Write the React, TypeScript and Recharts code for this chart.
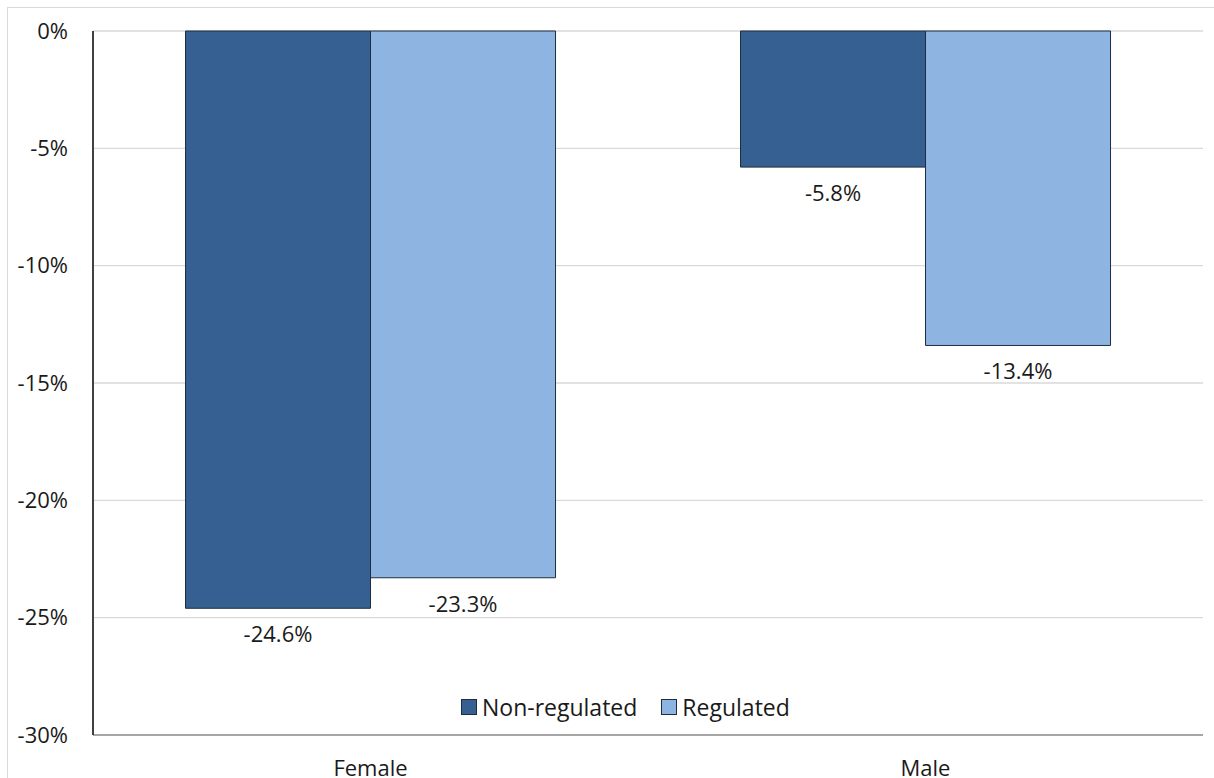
import React from 'react';
import {
  BarChart,
  Bar,
  XAxis,
  YAxis,
  CartesianGrid,
  Legend,
  LabelList,
} from 'recharts';

const categories = ['Female', 'Male'];
const nonRegulated = [-24.6, -5.8];
const regulated = [-23.3, -13.4];
const yTicks = [0, -5, -10, -15, -20, -25, -30];

const seriesInfo = [
  { key: 'nonRegulated', name: 'Non-regulated', color: '#366092' },
  { key: 'regulated', name: 'Regulated', color: '#8eb4e2' },
];

const data = categories.map((c, i) => ({
  category: c,
  nonRegulated: nonRegulated[i],
  regulated: regulated[i],
}));

const fontFamily = '"Open Sans", "Noto Sans", sans-serif';
const textColor = '#1a1a1a';

const pctFormatter = (v: number) => `${v}%`;

// label placed below the end of a (negative) bar
const BelowBarLabel = (props: any) => {
  const { x, y, width, height, value } = props;
  const bottom = Math.max(y, y + height);
  return (
    <text
      x={x + width / 2}
      y={bottom + 25}
      textAnchor="middle"
      dominantBaseline="central"
      fill={textColor}
      fontSize={22}
      fontFamily={fontFamily}
    >
      {pctFormatter(value)}
    </text>
  );
};

const LegendContent = () => (
  <div style={{ display: 'flex', alignItems: 'center', fontFamily, fontSize: 23, color: textColor }}>
    {seriesInfo.map((s, i) => (
      <div key={s.key} style={{ display: 'flex', alignItems: 'center', marginRight: i === 0 ? 24 : 0 }}>
        <span
          style={{
            width: 14,
            height: 14,
            background: s.color,
            border: '1px solid #1f2d3d',
            marginRight: 5,
            display: 'inline-block',
          }}
        />
        <span>{s.name}</span>
      </div>
    ))}
  </div>
);

const App: React.FC = () => {
  return (
    <div style={{ position: 'absolute', left: 0, top: 0, width: 1214, height: 778, overflow: 'hidden', background: '#fff' }}>
      <div
        style={{
          position: 'absolute',
          left: 7,
          top: 7,
          width: 1240,
          height: 820,
          border: '1px solid #d9d9d9',
        }}
      />
      <div style={{ position: 'absolute', left: 0, top: 0 }}>
        <BarChart
          width={1214}
          height={778}
          data={data}
          margin={{ top: 31, right: 11, bottom: 0, left: 8 }}
          barCategoryGap="16.67%"
          barGap={0}
        >
          <CartesianGrid vertical={false} stroke="#d9d9d9" strokeWidth={1.3} />
          <XAxis
            dataKey="category"
            height={43}
            tickLine={false}
            tickSize={0}
            tickMargin={25}
            axisLine={{ stroke: '#a6a6a6', strokeWidth: 2 }}
            tick={{ fill: textColor, fontSize: 22, fontFamily }}
          />
          <XAxis
            xAxisId="top"
            dataKey="category"
            orientation="top"
            height={0}
            tick={false}
            tickLine={false}
            axisLine={{ stroke: '#595959', strokeWidth: 2 }}
          />
          <YAxis
            width={85}
            domain={[-30, 0]}
            ticks={yTicks}
            interval={0}
            tickFormatter={pctFormatter}
            tickLine={false}
            tickSize={0}
            tickMargin={25}
            axisLine={{ stroke: '#404040', strokeWidth: 2 }}
            tick={{ fill: textColor, fontSize: 22, fontFamily }}
          />
          <YAxis
            yAxisId="right"
            orientation="right"
            width={0}
            domain={[-30, 0]}
            tick={false}
            tickLine={false}
            axisLine={{ stroke: '#a6a6a6', strokeWidth: 2 }}
          />
          <Legend
            verticalAlign="middle"
            align="center"
            content={LegendContent}
            wrapperStyle={{ left: 461, top: 691, width: 'auto' }}
          />
          {seriesInfo.map((s) => (
            <Bar
              key={s.key}
              dataKey={s.key}
              name={s.name}
              fill={s.color}
              stroke="#1f2d3d"
              strokeWidth={1}
              isAnimationActive={false}
            >
              <LabelList dataKey={s.key} content={BelowBarLabel} />
            </Bar>
          ))}
        </BarChart>
      </div>
    </div>
  );
};

export default App;
